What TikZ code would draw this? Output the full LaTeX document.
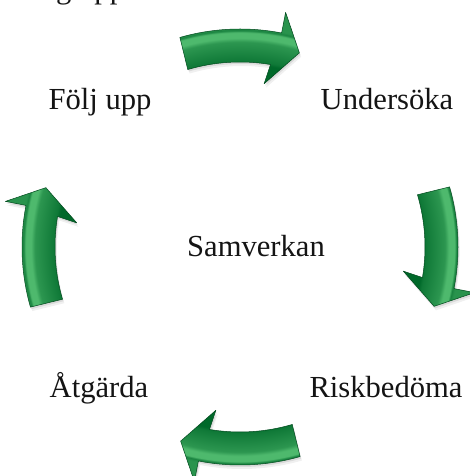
\documentclass[tikz,border=0pt]{standalone}
\usepackage{fontspec}
\setmainfont{Liberation Serif}
\definecolor{ghl}{RGB}{85,192,115}
\definecolor{gdk}{RGB}{0,105,42}
\colorlet{gA}{ghl!18!gdk}
\colorlet{gB}{ghl!52!gdk}
\colorlet{gC}{ghl!92!gdk}
\colorlet{gD}{ghl!30!gdk}
\colorlet{gE}{ghl!48!gdk}
\pgfdeclareradialshading{bevel}{\pgfpoint{0pt}{0pt}}{%
  color(0pt)=(gdk); color(183pt)=(gdk); color(186pt)=(gA); color(205pt)=(gB);
  color(209pt)=(gC); color(214.5pt)=(gC); color(216.5pt)=(gD); color(219pt)=(gE); color(246pt)=(gE)}
\def\arwpath{(106:218) arc[start angle=106,end angle=79,radius=218] -- (79:239) -- (73:203) -- (81.6:165) -- (80.5:185) arc[start angle=80.5,end angle=106.4,radius=185] -- cycle}
\tikzset{
  lbl/.style={font=\fontsize{30.6}{34}\selectfont, inner sep=0pt, anchor=base, text=black!92},
}
\newcommand\greenarrow[1]{%
  \begin{scope}[shift={(241.8,225)},rotate=#1]
    \fill[black,opacity=0.06] \arwpath;
  \end{scope}
  \begin{scope}[shift={(241,227)},rotate=#1]
    \fill[black,opacity=0.09] \arwpath;
  \end{scope}
  \begin{scope}[shift={(240,229)},rotate=#1]
    \begin{scope}
      \clip \arwpath;
      \pgflowlevelsynccm
      \pgfuseshading{bevel}
    \end{scope}
    \draw[gdk!70!black, line width=0.5pt, line join=round] \arwpath;
  \end{scope}
}
\begin{document}
\begin{tikzpicture}[x=1pt,y=1pt]
\useasboundingbox[fill=white] (0,0) rectangle (470,476);
\greenarrow{0}
\greenarrow{-90}
\greenarrow{-180}
\greenarrow{90}
\node[lbl] (folj) at (100,366) {Följ upp};
\node[lbl] (under) at (387,366) {Undersöka};
\node[lbl] (samv) at (256,219) {Samverkan};
\node[lbl] (atg) at (99,78) {Åtgärda};
\node[lbl] (risk) at (386,78) {Riskbedöma};
\node[lbl, anchor=base west] (frag) at (56,477.6) {g upp};
\end{tikzpicture}
\end{document}
